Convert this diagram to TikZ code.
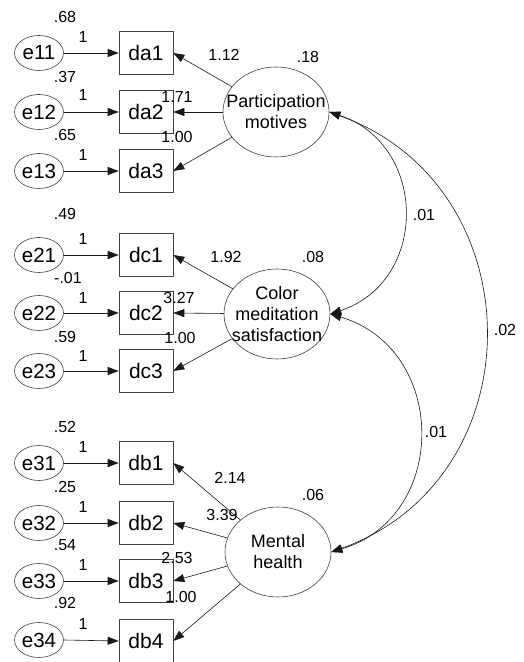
\documentclass[tikz,border=0pt]{standalone}
\usepackage{fontspec}
\setmainfont{Liberation Sans}
\usetikzlibrary{shapes.geometric,arrows.meta}
\begin{document}
\begin{tikzpicture}[x=1pt,y=1pt,
  errnode/.style={ellipse,draw=black!75,line width=0.6pt,minimum width=49pt,minimum height=35pt,inner sep=0pt,font=\fontsize{20.5}{22}\selectfont},
  obsnode/.style={rectangle,draw=black!75,line width=0.6pt,minimum width=54pt,minimum height=43pt,inner sep=0pt,font=\fontsize{21}{23}\selectfont},
  latnode/.style={ellipse,draw=black!75,line width=0.6pt,minimum width=106pt,minimum height=90pt,inner xsep=-20pt,inner ysep=-10pt,align=center,font=\fontsize{18}{21}\selectfont},
  lbl/.style={inner sep=0pt,font=\fontsize{16}{18}\selectfont},
  arrowline/.style={draw=black!90,line width=0.6pt,-{Triangle[length=11pt,width=8pt]}},
  covline/.style={draw=black!90,line width=0.6pt,{Triangle[length=11pt,width=8pt]}-{Triangle[length=11pt,width=8pt]}},
]
\useasboundingbox (0,0) rectangle (523,662);

% latent variables
\node[latnode] (PM)  at (276,550) {Participation\\motives};
\node[latnode] (CMS) at (277,348) {Color\\meditation\\satisfaction};
\node[latnode] (MH)  at (278,110) {Mental\\health};

% observed variables
\node[obsnode] (da1) at (146,609) {da1};
\node[obsnode] (da2) at (146,550) {da2};
\node[obsnode] (da3) at (146,491) {da3};
\node[obsnode] (dc1) at (146,407) {dc1};
\node[obsnode] (dc2) at (146,349) {dc2};
\node[obsnode] (dc3) at (146,291) {dc3};
\node[obsnode] (db1) at (146,199) {db1};
\node[obsnode] (db2) at (146,139) {db2};
\node[obsnode] (db3) at (146,81)  {db3};
\node[obsnode] (db4) at (146,21)  {db4};

% error terms
\node[errnode] (e11) at (39,609) {e11};
\node[errnode] (e12) at (39,550) {e12};
\node[errnode] (e13) at (39,491) {e13};
\node[errnode] (e21) at (39,407) {e21};
\node[errnode] (e22) at (39,349) {e22};
\node[errnode] (e23) at (39,291) {e23};
\node[errnode] (e31) at (39,199) {e31};
\node[errnode] (e32) at (39,139) {e32};
\node[errnode] (e33) at (39,81)  {e33};
\node[errnode] (e34) at (39,22)  {e34};

% error arrows
\foreach \e/\d in {e11/da1,e12/da2,e13/da3,e21/dc1,e22/dc2,e23/dc3,e31/db1,e32/db2,e33/db3,e34/db4}
  \draw[arrowline] (\e.east) -- (\d.west);

% loadings
\foreach \l/\d in {PM/da1,PM/da2,PM/da3,CMS/dc1,CMS/dc2,CMS/dc3,MH/db1,MH/db2,MH/db3,MH/db4}
  \draw[arrowline] (\l) -- (\d.east);

% covariances
\draw[covline] (PM.east) .. controls +(-18.3:104) and +(18.3:104) .. (CMS.east);
\draw[covline] (CMS.east) .. controls +(-16.5:123) and +(16.5:123) .. (MH.east);
\draw[covline] (PM.east) .. controls +(-19.7:219) and +(19.7:219) .. (MH.east);

% labels: error variances and fixed weights
\node[lbl] (v11) at (65,645) {.68};
\node[lbl] (w11) at (83,625) {1};
\node[lbl] (v12) at (65,585) {.37};
\node[lbl] (w12) at (83,567) {1};
\node[lbl] (v13) at (65,527) {.65};
\node[lbl] (w13) at (83,507) {1};
\node[lbl] (v21) at (65,448) {.49};
\node[lbl] (w21) at (83,423) {1};
\node[lbl] (v22) at (68,384) {-.01};
\node[lbl] (w22) at (83,364) {1};
\node[lbl] (v23) at (65,325) {.59};
\node[lbl] (w23) at (83,306) {1};
\node[lbl] (v31) at (65,235) {.52};
\node[lbl] (w31) at (83,215) {1};
\node[lbl] (v32) at (65,175) {.25};
\node[lbl] (w32) at (83,155) {1};
\node[lbl] (v33) at (65,117) {.54};
\node[lbl] (w33) at (83,97)  {1};
\node[lbl] (v34) at (65,59)  {.92};
\node[lbl] (w34) at (83,38)  {1};

% labels: loadings and latent variances
\node[lbl] (l11) at (224,607) {1.12};
\node[lbl] (l12) at (177,565) {1.71};
\node[lbl] (l13) at (177,525) {1.00};
\node[lbl] (vPM) at (308,605) {.18};
\node[lbl] (l21) at (226,405) {1.92};
\node[lbl] (l22) at (179,364) {3.27};
\node[lbl] (l23) at (180,324) {1.00};
\node[lbl] (vCMS) at (313,405) {.08};
\node[lbl] (l31) at (230,184) {2.14};
\node[lbl] (l32) at (222,147) {3.39};
\node[lbl] (l33) at (177,104) {2.53};
\node[lbl] (l34) at (181,65)  {1.00};
\node[lbl] (vMH) at (313,167) {.06};

% covariance labels
\node[lbl] (c1) at (424,447) {.01};
\node[lbl] (c2) at (436,230) {.01};
\node[lbl] (c3) at (505,332) {.02};
\end{tikzpicture}
\end{document}
